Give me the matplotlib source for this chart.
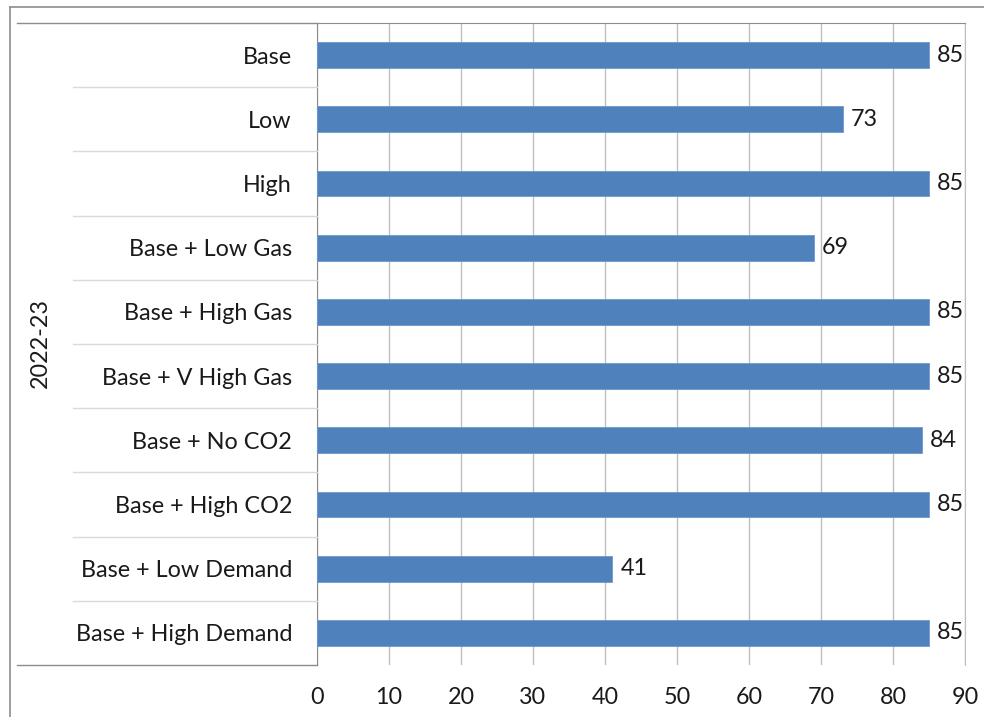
import numpy as np
import matplotlib
matplotlib.use('Agg')
import matplotlib.pyplot as plt
from matplotlib.lines import Line2D
import matplotlib.transforms as mtransforms

#%% Data
scenarios = ['Base', 'Low', 'High', 'Base + Low Gas', 'Base + High Gas',
             'Base + V High Gas', 'Base + No CO2', 'Base + High CO2',
             'Base + Low Demand', 'Base + High Demand']
values = [85, 73, 85, 69, 85, 85, 84, 85, 41, 85]
group_label = '2022-23'
xticks = [0, 10, 20, 30, 40, 50, 60, 70, 80, 90]

#%% Styles
plt.rcParams['font.family'] = ['Lato', 'DejaVu Sans']
barColor = '#4F81BD'
gridColor = '#BFBFBF'
lineColor = '#8C8C8C'
fs = 16.8

W, H = 984, 717
fig = plt.figure(figsize=(W/100., H/100.), dpi=100)
ax = fig.add_axes([317./W, 1-665./H, (965.-317.)/W, (665.-23.)/H])

ypos = np.arange(len(scenarios))
ax.barh(ypos, values, height=0.4, color=barColor, edgecolor='#6F98CC',
        linewidth=0.6, zorder=3)
for y, v in zip(ypos, values):
    ax.annotate('%d' % v, xy=(v, y), xytext=(6, 0), textcoords='offset points',
                ha='left', va='center', fontsize=fs, color='#1a1a1a')

ax.set_ylim(len(scenarios)-0.5, -0.5)
ax.set_xlim(0, 90)
ax.set_xticks(xticks)
ax.set_yticks(ypos)
ax.set_yticklabels(scenarios, fontsize=fs, color='#1a1a1a')
ax.tick_params(axis='y', length=0, pad=18)
ax.tick_params(axis='x', length=0, pad=16, labelsize=fs, labelcolor='#1a1a1a')
ax.xaxis.grid(True, color=gridColor, linewidth=1, zorder=0)
ax.spines['bottom'].set_visible(False)
ax.spines['left'].set_color(lineColor)
ax.spines['top'].set_color(lineColor)
ax.spines['right'].set_color(gridColor)

#%% Category separators in the label area
trans = mtransforms.blended_transform_factory(fig.transFigure, ax.transData)
for i in range(len(scenarios)+1):
    yb = i - 0.5
    if i == 0 or i == len(scenarios):
        x0, col = 17./W, lineColor
    else:
        x0, col = 73./W, '#D9D9D9'
    fig.add_artist(Line2D([x0, 317./W], [yb, yb], transform=trans,
                          color=col, linewidth=1))

fig.text(40./W, 1-343./H, group_label, rotation=90, ha='center', va='center',
         fontsize=fs, color='#1a1a1a')

#%% Outer chart border
fig.add_artist(Line2D([10./W, 1.], [1-7./H, 1-7./H], color='#8C8C8C', linewidth=1.2))
fig.add_artist(Line2D([10./W, 10./W], [0, 1-7./H], color='#8C8C8C', linewidth=1.2))

fig.savefig('out.png', dpi=100)
